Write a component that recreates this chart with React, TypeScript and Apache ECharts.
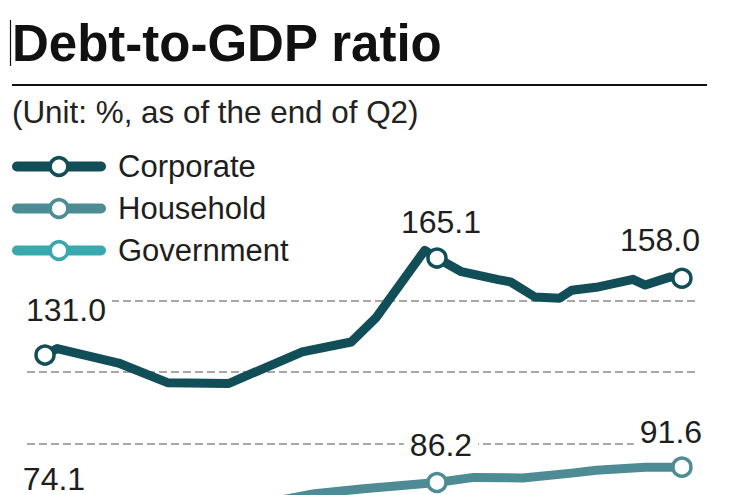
import React, { useEffect, useRef } from "react";
import * as echarts from "echarts";

// ---- Data ----
const TITLE = "Debt-to-GDP ratio";
const SUBTITLE = "(Unit: %, as of the end of Q2)";
const SERIES_NAMES = ["Corporate", "Household", "Government"];

// quarter index (0 = first quarter shown) and ratio values
const corporateQ = [0, 1, 6, 10, 15, 16, 21, 25, 27, 31, 32, 34, 37, 38, 40, 42, 43, 45, 48, 49, 51, 52];
const corporateV = [131.0, 133.3, 128.2, 121.3, 121.0, 122.9, 132.1, 135.6, 144.0, 167.8, 165.1, 160.3, 157.5, 156.7, 151.4, 151.0, 153.8, 154.8, 157.6, 155.6, 158.4, 158.0];

const householdQ = [0, 6, 12, 18, 22, 26, 32, 35, 39, 43, 45, 49, 52];
const householdV = [74.1, 74.8, 76.5, 79.0, 82.3, 84.0, 86.2, 88.0, 87.8, 89.5, 90.5, 91.6, 91.6];

// government line lies below the visible area of the picture
const governmentQ = [0, 32, 52];
const governmentV = [28.5, 36.0, 38.2];

const markerQ = [0, 32, 52];

const Y_TICKS = [0, 150, 25]; // min, max, interval

// ---- Styles ----
const FONT = "'Liberation Sans', Arial, Helvetica, sans-serif";
const COLORS = ["#124e57", "#4e8c95", "#3aa8ad"];
const LABEL_OFFSETS: Record<string, Record<number, [number, number]>> = {
  Corporate: { 0: [21, -45], 32: [4, -36], 52: [-22, -38] },
  Household: { 0: [9, -38], 32: [4, -38], 52: [-11, -35] },
};

function buildData(name: string, qs: number[], vs: number[]) {
  const offsets = LABEL_OFFSETS[name];
  return qs.map((q, i) => {
    if (markerQ.includes(q)) {
      return offsets
        ? { value: [q, vs[i]], symbol: "circle", label: { show: true, offset: offsets[q] } }
        : { value: [q, vs[i]], symbol: "circle" };
    }
    return { value: [q, vs[i]], symbol: "none" };
  });
}

function makeSeries(name: string, qs: number[], vs: number[], color: string) {
  return {
    name,
    type: "line",
    clip: false,
    data: buildData(name, qs, vs),
    symbol: "circle",
    symbolSize: 18,
    lineStyle: { color, width: 9, cap: "round", join: "round" },
    itemStyle: { color: "#ffffff", borderColor: color, borderWidth: 3.5 },
    label: {
      show: false,
      position: "inside",
      formatter: (p: any) => Number(p.value[1]).toFixed(1),
      fontSize: 32,
      color: "#1e1e1e",
      fontFamily: FONT,
      backgroundColor: "#ffffff",
      padding: [0, 6],
    },
    emphasis: { disabled: true },
  };
}

export default function App() {
  const ref = useRef<HTMLDivElement>(null);

  useEffect(() => {
    if (!ref.current) return;
    const chart = echarts.init(ref.current, undefined, { renderer: "svg" });
    const option: any = {
      animation: false,
      backgroundColor: "#ffffff",
      title: [
        {
          text: TITLE,
          left: 12,
          top: 18,
          padding: 0,
          textStyle: { fontSize: 51, fontWeight: "bold", color: "#111", fontFamily: FONT },
        },
        {
          text: SUBTITLE,
          left: 12,
          top: 97,
          padding: 0,
          textStyle: { fontSize: 31.4, fontWeight: "normal", color: "#222", fontFamily: FONT },
        },
      ],
      legend: {
        data: SERIES_NAMES,
        orient: "vertical",
        left: 12,
        top: 151,
        padding: 0,
        itemWidth: 84,
        itemHeight: 22,
        itemGap: 11,
        selectedMode: false,
        lineStyle: { width: 10, cap: "round" },
        itemStyle: { color: "#ffffff", borderWidth: 3.5 },
        textStyle: {
          fontSize: 31,
          color: "#1e1e1e",
          fontFamily: FONT,
          padding: [0, 0, 0, 12],
        },
      },
      graphic: [
        {
          type: "line",
          shape: { x1: 12, y1: 85, x2: 707, y2: 85 },
          style: { stroke: "#111", lineWidth: 2 },
        },
        {
          type: "line",
          shape: { x1: 10.5, y1: 20, x2: 10.5, y2: 66 },
          style: { stroke: "#111", lineWidth: 1.2 },
        },
      ],
      grid: {
        left: 27,
        top: 301,
        width: 671,
        height: 426.75,
        containLabel: false,
        outerBoundsMode: "none",
      },
      xAxis: {
        type: "value",
        min: -1.47,
        max: 53.31,
        show: false,
      },
      yAxis: {
        type: "value",
        min: Y_TICKS[0],
        max: Y_TICKS[1],
        interval: Y_TICKS[2],
        axisLine: { show: false },
        axisTick: { show: false },
        axisLabel: { show: false },
        splitLine: { show: true, lineStyle: { color: "#8a8a8a", width: 1.5, type: [8, 4] } },
      },
      series: [
        makeSeries("Corporate", corporateQ, corporateV, COLORS[0]),
        makeSeries("Household", householdQ, householdV, COLORS[1]),
        makeSeries("Government", governmentQ, governmentV, COLORS[2]),
      ],
    };
    chart.setOption(option);
    return () => chart.dispose();
  }, []);

  return <div ref={ref} style={{ width: 750, height: 495, position: "absolute", left: 0, top: 0 }} />;
}
